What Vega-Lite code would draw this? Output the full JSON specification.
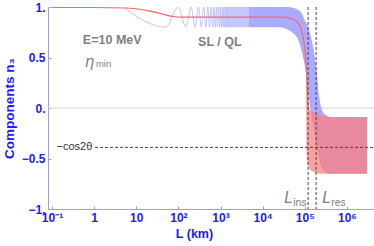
{
  "$schema": "https://vega.github.io/schema/vega-lite/v6.json",
  "width": 326,
  "height": 202,
  "autosize": {"type": "none"},
  "padding": {"left": 48, "top": 7, "right": 0, "bottom": 37},
  "config": {
    "view": {"stroke": null},
    "font": "Liberation Sans",
    "axis": {"grid": false}
  },
  "datasets": {
    "redline": [
      {"L": 0.1, "v": 0.995}, {"L": 1, "v": 0.995}, {"L": 6, "v": 0.99}, {"L": 12, "v": 0.978},
      {"L": 20, "v": 0.962}, {"L": 33, "v": 0.942}, {"L": 50, "v": 0.922}, {"L": 76, "v": 0.906},
      {"L": 120, "v": 0.9}, {"L": 30000, "v": 0.9}, {"L": 40000, "v": 0.895}, {"L": 50000, "v": 0.882},
      {"L": 63000, "v": 0.86}, {"L": 79000, "v": 0.8}, {"L": 90000, "v": 0.72}, {"L": 100000, "v": 0.58},
      {"L": 107000, "v": 0.45}, {"L": 112000, "v": 0.3}, {"L": 117000, "v": 0.12}, {"L": 122000, "v": -0.02}
    ],
    "blueosc": [
      {"L": 5, "v": 0.995}, {"L": 50, "v": 0.8}, {"L": 100, "v": 1.0}, {"L": 150, "v": 0.8},
      {"L": 200, "v": 1.0}, {"L": 250, "v": 0.8}, {"L": 300, "v": 1.0}, {"L": 350, "v": 0.8},
      {"L": 400, "v": 1.0}, {"L": 450, "v": 0.8}, {"L": 500, "v": 1.0}, {"L": 550, "v": 0.8},
      {"L": 600, "v": 1.0}, {"L": 650, "v": 0.8}, {"L": 700, "v": 1.0}, {"L": 750, "v": 0.8},
      {"L": 800, "v": 1.0}, {"L": 850, "v": 0.8}, {"L": 900, "v": 1.0}, {"L": 950, "v": 0.8},
      {"L": 1000, "v": 1.0}, {"L": 1050, "v": 0.8}, {"L": 1100, "v": 1.0}, {"L": 1150, "v": 0.8},
      {"L": 1200, "v": 1.0}, {"L": 1250, "v": 0.8}, {"L": 1300, "v": 1.0}, {"L": 1350, "v": 0.8},
      {"L": 1400, "v": 1.0}, {"L": 1450, "v": 0.8}, {"L": 1500, "v": 1.0}, {"L": 1550, "v": 0.8},
      {"L": 1600, "v": 1.0}, {"L": 1650, "v": 0.8}, {"L": 1700, "v": 1.0}, {"L": 1750, "v": 0.8},
      {"L": 1800, "v": 1.0}, {"L": 1850, "v": 0.8}, {"L": 1900, "v": 1.0}, {"L": 1950, "v": 0.8},
      {"L": 2000, "v": 1.0}
    ],
    "bluelight": [
      {"L": 1600, "v": 0.8, "v2": 1.0}, {"L": 4700, "v": 0.8, "v2": 1.0}
    ],
    "blueband": [
      {"L": 4677, "v": 0.8, "v2": 1.0}, {"L": 25119, "v": 0.8, "v2": 1.0},
      {"L": 39811, "v": 0.775, "v2": 1.0}, {"L": 53703, "v": 0.74, "v2": 0.99},
      {"L": 70795, "v": 0.67, "v2": 0.97}, {"L": 83176, "v": 0.57, "v2": 0.94},
      {"L": 100000, "v": 0.42, "v2": 0.87}, {"L": 109648, "v": 0.31, "v2": 0.84},
      {"L": 117490, "v": 0.19, "v2": 0.81}, {"L": 134896, "v": 0.0, "v2": 0.73},
      {"L": 158489, "v": -0.18, "v2": 0.6}, {"L": 190546, "v": -0.38, "v2": 0.38},
      {"L": 213796, "v": -0.48, "v2": 0.15}, {"L": 234423, "v": -0.55, "v2": 0.04},
      {"L": 263027, "v": -0.61, "v2": -0.03}, {"L": 316228, "v": -0.64, "v2": -0.07},
      {"L": 398107, "v": -0.65, "v2": -0.088}, {"L": 501187, "v": -0.65, "v2": -0.09},
      {"L": 3019952, "v": -0.65, "v2": -0.09}
    ],
    "redband": [
      {"L": 107152, "v": 0.4, "v2": 0.45}, {"L": 110917, "v": -0.45, "v2": 0.33},
      {"L": 114815, "v": -0.53, "v2": 0.2}, {"L": 120226, "v": -0.57, "v2": 0.02},
      {"L": 131826, "v": -0.605, "v2": -0.02}, {"L": 158489, "v": -0.63, "v2": -0.04},
      {"L": 199526, "v": -0.645, "v2": -0.06}, {"L": 281838, "v": -0.65, "v2": -0.08},
      {"L": 398107, "v": -0.65, "v2": -0.09}, {"L": 3019952, "v": -0.65, "v2": -0.09}
    ]
  },
  "layer": [
    {
      "data": {"values": [{"v": 0}]},
      "mark": {"type": "rule", "color": "#d4d4d4", "strokeWidth": 1},
      "encoding": {
        "y": {
          "field": "v", "type": "quantitative",
          "scale": {"domain": [-1, 1], "nice": false, "zero": false},
          "axis": {
            "title": "Components n₃",
            "titleColor": "#1a1aff", "titleFontSize": 13.5, "titleFontWeight": "bold",
            "titlePadding": 5,
            "values": [-1, -0.5, 0, 0.5, 1],
            "labelExpr": "datum.value == 1 ? '1.' : datum.value == 0 ? '0.' : datum.value == -1 ? '−1.' : datum.value == 0.5 ? '0.5' : '−0.5'",
            "labelColor": "#1a1aff", "labelFontSize": 12, "labelFontWeight": "bold",
            "labelPadding": 6, "tickSize": -3, "tickColor": "#9a9aff",
            "domainColor": "#9a9aff", "labelFlush": false
          }
        }
      }
    },
    {
      "data": {"name": "blueosc"},
      "mark": {"type": "line", "color": "#bcbcff", "strokeWidth": 0.9, "interpolate": "monotone", "clip": true},
      "encoding": {
        "x": {
          "field": "L", "type": "quantitative",
          "scale": {"type": "log", "domain": [0.0803, 4400000], "nice": false},
          "axis": {
            "title": "L  (km)",
            "titleColor": "#1a1aff", "titleFontSize": 12.5, "titleFontWeight": "bold",
            "titleX": 146, "titleY": 24, "titleBaseline": "middle",
            "values": [0.1, 1, 10, 100, 1000, 10000, 100000, 1000000],
            "labelExpr": "datum.value < 0.5 ? '10⁻¹' : datum.value < 5 ? '1' : datum.value < 50 ? '10' : datum.value < 500 ? '10²' : datum.value < 5000 ? '10³' : datum.value < 50000 ? '10⁴' : datum.value < 500000 ? '10⁵' : '10⁶'",
            "labelColor": "#1a1aff", "labelFontSize": 12, "labelFontWeight": "bold",
            "labelPadding": 6, "tickSize": -3, "tickColor": "#9a9aff",
            "domainColor": "#9a9aff", "labelFlush": false
          }
        },
        "y": {"field": "v", "type": "quantitative"}
      }
    },
    {
      "data": {"name": "bluelight"},
      "mark": {"type": "area", "color": "#c6c6ff", "opacity": 1},
      "encoding": {
        "x": {"field": "L", "type": "quantitative"},
        "y": {"field": "v", "type": "quantitative"},
        "y2": {"field": "v2"}
      }
    },
    {
      "data": {"name": "blueband"},
      "mark": {"type": "area", "color": "#aaaaff", "opacity": 1, "interpolate": "monotone"},
      "encoding": {
        "x": {"field": "L", "type": "quantitative"},
        "y": {"field": "v", "type": "quantitative"},
        "y2": {"field": "v2"}
      }
    },
    {
      "data": {"name": "redband"},
      "mark": {"type": "area", "color": "#ff7d7d", "opacity": 0.73, "interpolate": "monotone"},
      "encoding": {
        "x": {"field": "L", "type": "quantitative"},
        "y": {"field": "v", "type": "quantitative"},
        "y2": {"field": "v2"}
      }
    },
    {
      "data": {"name": "redline"},
      "mark": {"type": "line", "color": "#ff6464", "strokeWidth": 1.2, "interpolate": "monotone"},
      "encoding": {
        "x": {"field": "L", "type": "quantitative"},
        "y": {"field": "v", "type": "quantitative"}
      }
    },
    {
      "data": {"values": [{"L": 1.05, "L2": 4300000, "v": -0.39}]},
      "mark": {"type": "rule", "color": "#444444", "strokeWidth": 1, "strokeDash": [3, 2]},
      "encoding": {
        "x": {"field": "L", "type": "quantitative"},
        "x2": {"field": "L2"},
        "y": {"field": "v", "type": "quantitative"}
      }
    },
    {
      "data": {"values": [{"L": 120000}, {"L": 186000}]},
      "mark": {"type": "rule", "color": "#444444", "strokeWidth": 1, "strokeDash": [3, 2]},
      "encoding": {
        "x": {"field": "L", "type": "quantitative"}
      }
    },
    {
      "data": {"values": [{"L": 0.54, "v": 0.67, "t": "E=10 MeV"}, {"L": 294, "v": 0.65, "t": "SL / QL"}]},
      "mark": {"type": "text", "color": "#808080", "fontSize": 12.5, "fontWeight": "bold", "align": "left", "baseline": "middle"},
      "encoding": {
        "x": {"field": "L", "type": "quantitative"},
        "y": {"field": "v", "type": "quantitative"},
        "text": {"field": "t"}
      }
    },
    {
      "data": {"values": [{"L": 0.6, "v": 0.46, "t": "η"}, {"L": 32400, "v": -0.895, "t": "L"}, {"L": 260000, "v": -0.895, "t": "L"}]},
      "mark": {"type": "text", "color": "#808080", "fontSize": 15, "fontStyle": "italic", "align": "left", "baseline": "middle", "font": "DejaVu Sans"},
      "encoding": {
        "x": {"field": "L", "type": "quantitative"},
        "y": {"field": "v", "type": "quantitative"},
        "text": {"field": "t"}
      }
    },
    {
      "data": {"values": [{"L": 1.1, "v": 0.435, "t": "min"}]},
      "mark": {"type": "text", "color": "#808080", "fontSize": 9.5, "align": "left", "baseline": "middle"},
      "encoding": {
        "x": {"field": "L", "type": "quantitative"},
        "y": {"field": "v", "type": "quantitative"},
        "text": {"field": "t"}
      }
    },
    {
      "data": {"values": [{"L": 53000, "v": -0.94, "t": "ins"}, {"L": 424000, "v": -0.94, "t": "res"}]},
      "mark": {"type": "text", "color": "#808080", "fontSize": 10.5, "align": "left", "baseline": "middle"},
      "encoding": {
        "x": {"field": "L", "type": "quantitative"},
        "y": {"field": "v", "type": "quantitative"},
        "text": {"field": "t"}
      }
    },
    {
      "data": {"values": [{"L": 0.128, "v": -0.39, "t": "−cos2θ"}]},
      "mark": {"type": "text", "color": "#333333", "fontSize": 11, "align": "left", "baseline": "middle"},
      "encoding": {
        "x": {"field": "L", "type": "quantitative"},
        "y": {"field": "v", "type": "quantitative"},
        "text": {"field": "t"}
      }
    }
  ]
}
